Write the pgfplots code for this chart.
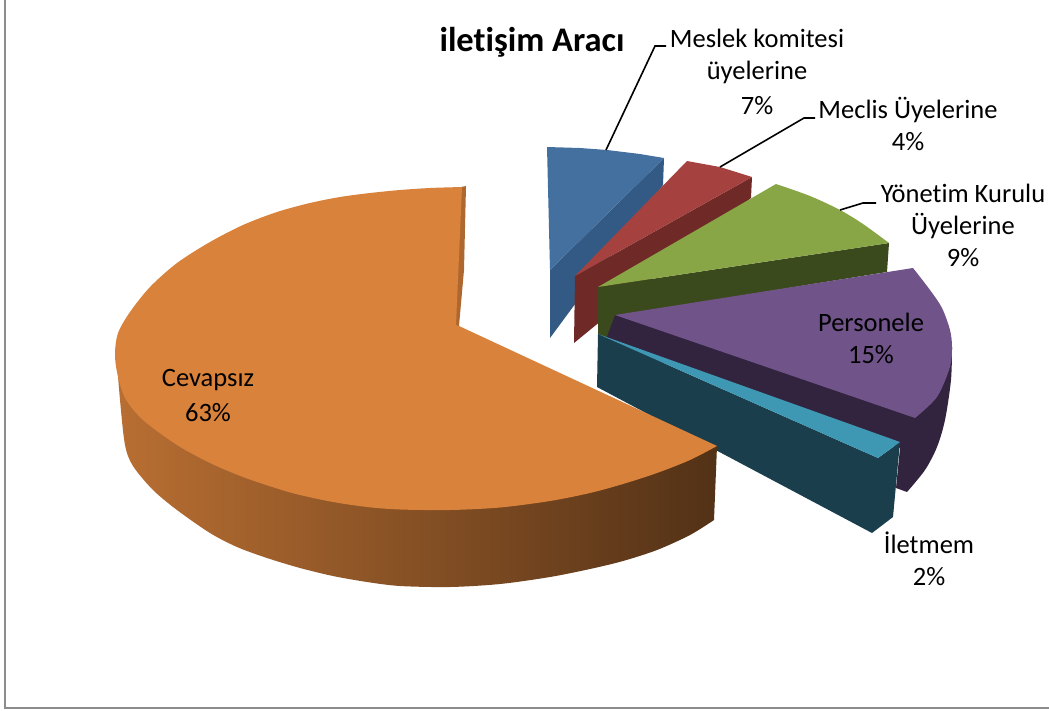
\documentclass[border=0pt]{standalone}
\usepackage{pgfplots}
\pgfplotsset{compat=1.18}
\usepackage{fontspec}
\setmainfont[Ligatures=NoCommon]{Carlito}
\definecolor{blueT}{HTML}{44709F}
\definecolor{blueS}{HTML}{335A85}
\definecolor{redT}{HTML}{A5413E}
\definecolor{redS}{HTML}{6F2A28}
\definecolor{greenT}{HTML}{88A646}
\definecolor{greenS}{HTML}{3B4A1C}
\definecolor{purpT}{HTML}{6F5389}
\definecolor{purpS}{HTML}{32243F}
\definecolor{tealT}{HTML}{3E98B3}
\definecolor{tealS}{HTML}{1A3E4C}
\definecolor{orT}{HTML}{D9823B}
\definecolor{frameC}{HTML}{8C8C8C}
\tikzset{
  lab/.style={font=\fontsize{26.5}{30}\selectfont, text=black, anchor=center, inner sep=0pt},
  lead/.style={black, line width=1.6pt},
}
\begin{document}
\begin{tikzpicture}[x=1pt,y=1pt]
\begin{axis}[
  scale only axis, width=1049pt, height=710pt,
  xmin=0, xmax=1049, ymin=0, ymax=710, y dir=reverse,
  axis lines=none, clip=true,
  every axis plot/.append style={no markers},
]
% frame
\addplot[draw=frameC, line width=2pt] coordinates {(5,0)(5,708)(1049,708)};
% blue
\addplot[fill=blueS, draw=none] coordinates {(664,158)(663,185)(550,338)(550,270)} -- cycle;
\addplot[fill=blueT, draw=none] coordinates {(640,154)(664,158)(550,270)(547,147)(580,148)(607,150)} -- cycle;
% red
\addplot[fill=redS, draw=none] coordinates {(752,177)(751,198)(574,343)(575,276)} -- cycle;
\addplot[fill=redT, draw=none] coordinates {(687,161)(720,167)(752,177)(575,276)} -- cycle;
% green
\addplot[fill=greenS, draw=none] coordinates {(598,287)(889,243)(887,272)(615,316)(612,342)(598,338)} -- cycle;
\addplot[fill=greenT, draw=none, smooth] coordinates {(776,184)(810,196)(840,210)(863,224)(889,243)} -- (axis cs:598,287) -- cycle;
% purple
\addplot[fill=purpS, draw=none, smooth] coordinates {(952,347)(951,380)(945,420)(937,447)(925,470)(907,492)} -- (axis cs:896,488) -- (axis cs:900,448) -- (axis cs:605,342) -- (axis cs:615,315) -- cycle;
\addplot[fill=purpT, draw=none, smooth] coordinates {(913,268)(930,290)(942,308)(950,330)(952,347)(950,367)(937,397)(915,418)} -- (axis cs:615,315) -- cycle;
% teal
\addplot[fill=tealS, draw=none] coordinates {(598,334)(878,458)(900,442)(893,517)(872,533)(597,387)} -- cycle;
\addplot[fill=tealT, draw=none] coordinates {(598,334)(900,442)(878,458)} -- cycle;
% orange
\addplot[left color=orT!85!black, middle color=orT!45!black, right color=orT!38!black, draw=none, smooth] coordinates {(714,520)(690,535)(657,550)(623,561)(590,569)(550,577)(500,584)(450,587)(400,586)(367,582)(333,576)(300,568)(267,558)(237,547)(210,533)(177,510)(153,490)(133,466)(125,445)(120,400)(116,350)} -- (axis cs:717,446) -- cycle;
\addplot[fill=orT!80!black, draw=none] coordinates {(466,186)(464,270)(459,326)(454,326)(461,187)} -- cycle;
\addplot[fill=orT, draw=none, smooth] coordinates {(717,446)(690,460)(657,473)(623,484)(590,493)(550,501)(500,507.5)(450,510)(400,509.5)(367,507)(333,502)(300,495)(277,488.5)(243,477)(210,463)(177,445)(143,420)(125,398)(117,372)(115,353)(118,333)(130,312)(150,287)(177,263)(210,242)(243,225)(277,212)(310,203)(340,197)(370,193)(400,190)(430,188)(462,187)} -- (axis cs:456,325) -- (axis cs:459,326) -- cycle;
% leader lines
\addplot[lead] coordinates {(606,150)(655,46)(666,46)};
\addplot[lead] coordinates {(720,167)(804,118)(815,118)};
\addplot[lead] coordinates {(840,210)(863,203)(876,203)};
% labels
\node[font=\fontsize{34.5}{38}\selectfont\bfseries, inner sep=0pt] at (axis cs:532,42) {iletişim Aracı};
\node[lab] at (axis cs:757,38) {Meslek komitesi};
\node[lab] at (axis cs:757,72) {üyelerine};
\node[lab] at (axis cs:757,106) {7\%};
\node[lab] at (axis cs:908,110) {Meclis Üyelerine};
\node[lab] at (axis cs:908,142) {4\%};
\node[lab] at (axis cs:963,193) {Yönetim Kurulu};
\node[lab] at (axis cs:963,226) {Üyelerine};
\node[lab] at (axis cs:963,258) {9\%};
\node[lab] at (axis cs:871,322) {Personele};
\node[lab] at (axis cs:871,355) {15\%};
\node[lab] at (axis cs:929,543) {İletmem};
\node[lab] at (axis cs:929,577) {2\%};
\node[lab] at (axis cs:208,380) {Cevapsız};
\node[lab] at (axis cs:208,413) {63\%};
\end{axis}
\path (0,0) rectangle (1049pt,710pt);
\end{tikzpicture}
\end{document}
